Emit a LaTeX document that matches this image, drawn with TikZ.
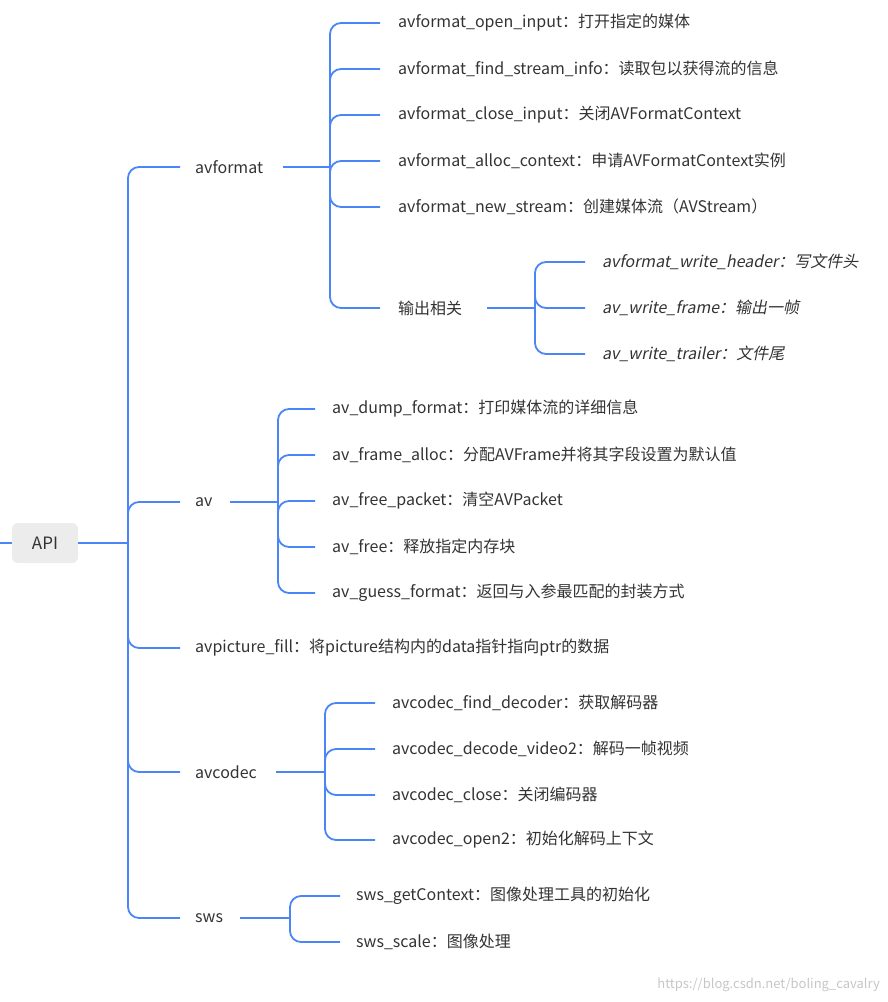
\documentclass[tikz,border=0pt]{standalone}
\usepackage{fontspec}
\setmainfont{Noto Sans CJK SC}
\newfontfamily\slantfont[FakeSlant=0.2]{Noto Sans CJK SC}
\definecolor{linkblue}{HTML}{4A86F7}
\definecolor{txtgray}{HTML}{333333}
\begin{document}
\begin{tikzpicture}[x=1pt,y=-1pt,
    branch/.style={draw=linkblue, line width=1.8pt, rounded corners=11pt},
    topic/.style={anchor=west, inner sep=0pt, text=txtgray, font=\fontsize{16}{18}\selectfont},
    subtopic/.style={topic, font=\fontsize{16}{18}\selectfont\slantfont}]
\useasboundingbox (0,0) rectangle (887,1002);

% root
\node[fill=gray!15, rounded corners=6pt, minimum width=66pt, minimum height=40pt,
      text=txtgray, font=\fontsize{17}{18}\selectfont] (api) at (45,543) {API};
\coordinate (lstub) at (0,543);
\coordinate (trunk) at (128,543);
\draw[branch] (lstub) -- (api.west);
\draw[branch] (api.east) -- (trunk);

% first level
\node[topic] (fmt) at (195,167) {avformat};
\node[topic] (av) at (195,502) {av};
\node[topic] (pic) at (195,648) {avpicture\_fill：将picture结构内的data指针指向ptr的数据};
\node[topic] (codec) at (195,772) {avcodec};
\node[topic] (sws) at (195,918) {sws};
\foreach \n in {fmt,av,pic,codec,sws}
  \draw[branch] (trunk) |- ([xshift=-15pt]\n.west);

% avformat
\coordinate (fmtj) at (330,167);
\draw[branch] (283,167) -- (fmtj);
\node[topic] (fmt1) at (398,23) {avformat\_open\_input：打开指定的媒体};
\node[topic] (fmt2) at (398,69) {avformat\_find\_stream\_info：读取包以获得流的信息};
\node[topic] (fmt3) at (398,115) {avformat\_close\_input：关闭AVFormatContext};
\node[topic] (fmt4) at (398,161) {avformat\_alloc\_context：申请AVFormatContext实例};
\node[topic] (fmt5) at (398,207) {avformat\_new\_stream：创建媒体流（AVStream）};
\node[topic] (out) at (398,308) {输出相关};
\foreach \n in {fmt1,fmt2,fmt3,fmt4,fmt5,out}
  \draw[branch] (fmtj) |- ([xshift=-18pt]\n.west);

% output
\coordinate (outj) at (535,308);
\draw[branch] (487,308) -- (outj);
\node[subtopic] (out1) at (602,262) {avformat\_write\_header：写文件头};
\node[subtopic] (out2) at (602,308) {av\_write\_frame：输出一帧};
\node[subtopic] (out3) at (602,354) {av\_write\_trailer：文件尾};
\foreach \n in {out1,out2,out3}
  \draw[branch] (outj) |- ([xshift=-17pt]\n.west);

% av
\coordinate (avj) at (278,502);
\draw[branch] (230,502) -- (avj);
\node[topic] (av1) at (332,409) {av\_dump\_format：打印媒体流的详细信息};
\node[topic] (av2) at (332,455) {av\_frame\_alloc：分配AVFrame并将其字段设置为默认值};
\node[topic] (av3) at (332,501) {av\_free\_packet：清空AVPacket};
\node[topic] (av4) at (332,547) {av\_free：释放指定内存块};
\node[topic] (av5) at (332,593) {av\_guess\_format：返回与入参最匹配的封装方式};
\foreach \n in {av1,av2,av3,av4,av5}
  \draw[branch] (avj) |- ([xshift=-17pt]\n.west);

% avcodec
\coordinate (codecj) at (325,772);
\draw[branch] (276,772) -- (codecj);
\node[topic] (codec1) at (392,703) {avcodec\_find\_decoder：获取解码器};
\node[topic] (codec2) at (392,749) {avcodec\_decode\_video2：解码一帧视频};
\node[topic] (codec3) at (392,795) {avcodec\_close：关闭编码器};
\node[topic] (codec4) at (392,840) {avcodec\_open2：初始化解码上下文};
\foreach \n in {codec1,codec2,codec3,codec4}
  \draw[branch] (codecj) |- ([xshift=-17pt]\n.west);

% sws
\coordinate (swsj) at (290,918);
\draw[branch] (240,918) -- (swsj);
\node[topic] (sws1) at (356,896) {sws\_getContext：图像处理工具的初始化};
\node[topic] (sws2) at (356,942) {sws\_scale：图像处理};
\foreach \n in {sws1,sws2}
  \draw[branch] (swsj) |- ([xshift=-16pt]\n.west);

% watermark
\node[anchor=east, inner sep=0pt, text=gray!45, font=\fontsize{13}{14}\selectfont] (mark) at (880,985) {https://blog.csdn.net/boling\_cavalry};
\end{tikzpicture}
\end{document}
